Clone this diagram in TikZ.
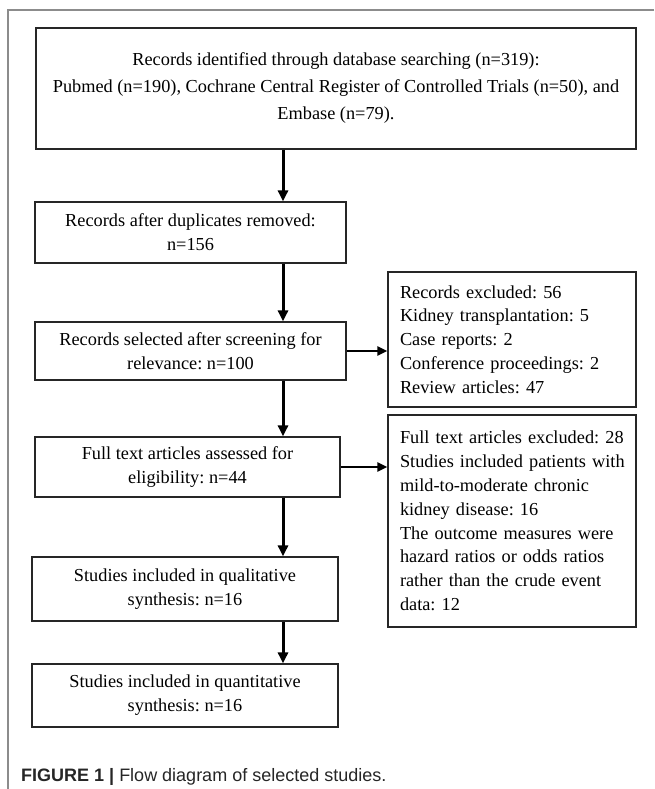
\documentclass[tikz,border=0pt]{standalone}
\usepackage{fontspec}
\setmainfont{Liberation Serif}
\newfontfamily\capfont{Liberation Sans}
\usetikzlibrary{arrows.meta}
\frenchspacing
\hbadness=10000 \hfuzz=100pt
\begin{document}
\begin{tikzpicture}[x=1pt,y=-1pt,
  box/.style={draw=black!85, line width=1.2pt, rectangle, inner sep=0pt, align=center,
    font=\fontsize{18.3}{24}\selectfont},
  ebox/.style={draw=black!85, line width=1.2pt, rectangle, inner xsep=12pt, inner ysep=0pt,
    text width=224pt, align=left, font=\fontsize{18.3}{23.8}\selectfont},
  varrow/.style={line width=3pt, -{Triangle[length=11pt,width=10pt]}},
  harrow/.style={line width=2pt, -{Triangle[length=10pt,width=9pt]}},
  frame/.style={draw=gray!90, line width=1.5pt}]
\useasboundingbox (0,0) rectangle (654,789);
\draw[frame] (654,10) -- (8,10) -- (8,789);
\coordinate (ax) at (283,0);
\node[box, minimum width=600pt, minimum height=121pt, font=\fontsize{18.3}{27}\selectfont] (top) at (336,88.5)
  {Records identified through database searching (n=319):\\
   Pubmed (n=190), Cochrane Central Register of Controlled Trials (n=50), and\\
   Embase (n=79).};
\node[box, minimum width=311pt, minimum height=61pt] (b2) at (190.5,232.5)
  {Records after duplicates removed:\\n=156};
\node[box, minimum width=311pt, minimum height=58pt] (b3) at (190.5,351)
  {Records selected after screening for\\relevance: n=100};
\node[box, minimum width=305pt, minimum height=60pt] (b4) at (187.5,467)
  {Full text articles assessed for\\eligibility: n=44};
\node[box, minimum width=306pt, minimum height=64pt] (b5) at (185,589)
  {Studies included in qualitative\\synthesis: n=16};
\node[box, minimum width=306pt, minimum height=63pt] (b6) at (185,695.5)
  {Studies included in quantitative\\synthesis: n=16};
\node[ebox, minimum height=135pt] (e1) at (512,339.5)
  {\mbox{Records excluded: 56}\\\mbox{Kidney transplantation: 5}\\\mbox{Case reports: 2}\\\mbox{Conference proceedings: 2}\\\mbox{Review articles: 47}};
\node[ebox, minimum height=212pt] (e2) at (512,521)
  {\mbox{Full text articles excluded: 28}\\\mbox{Studies included patients with}\\\mbox{mild-to-moderate chronic}\\\mbox{kidney disease: 16}\\\mbox{The outcome measures were}\\\mbox{hazard ratios or odds ratios}\\\mbox{rather than the crude event}\\\mbox{data: 12}};
\draw[varrow] (top.south -| ax) -- (b2.north -| ax);
\draw[varrow] (b2.south -| ax) -- (b3.north -| ax);
\draw[varrow] (b3.south -| ax) -- (b4.north -| ax);
\draw[varrow] (b4.south -| ax) -- (b5.north -| ax);
\draw[varrow] (b5.south -| ax) -- (b6.north -| ax);
\draw[harrow] (b3.east) -- (b3.east -| e1.west);
\draw[harrow] (b4.east) -- (b4.east -| e2.west);
\node[anchor=base west, inner sep=0pt, text=black!85, font=\capfont\fontsize{18}{20}\selectfont] (cap) at (21,781)
  {\textbf{FIGURE 1 |} Flow diagram of selected studies.};
\end{tikzpicture}
\end{document}
